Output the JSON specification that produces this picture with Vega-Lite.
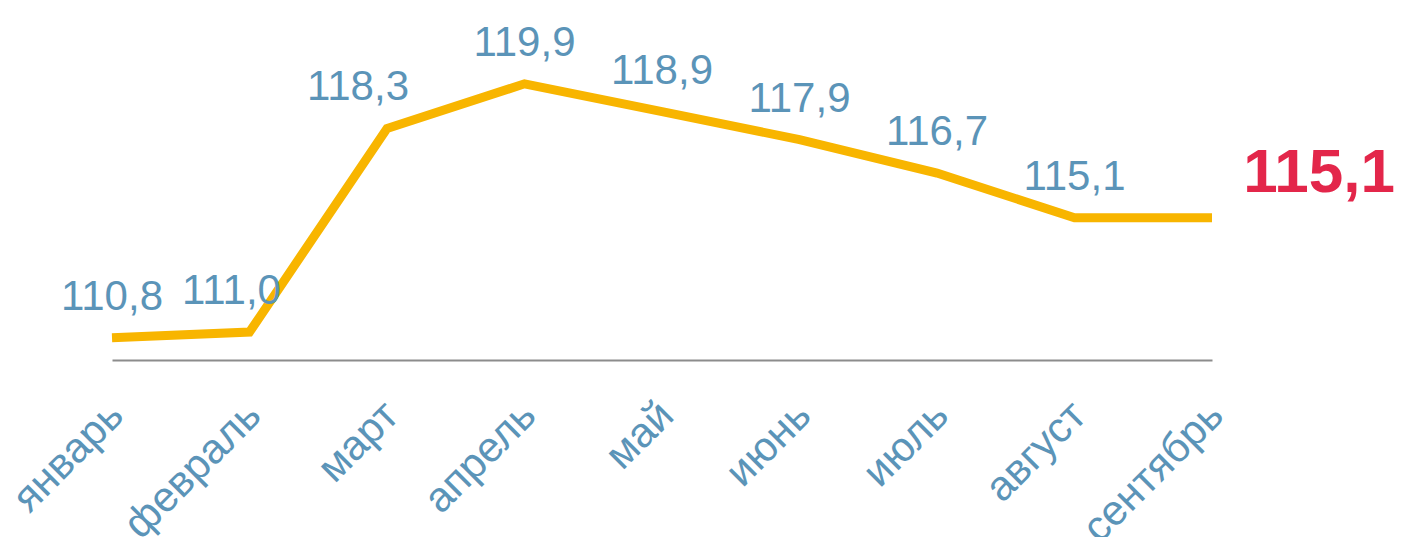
{
  "$schema": "https://vega.github.io/schema/vega-lite/v6.json",
  "autosize": "none",
  "width": 1100,
  "height": 279,
  "padding": {"left": 112, "top": 81, "right": 190, "bottom": 177},
  "background": "white",
  "config": {"view": {"stroke": null}, "font": "Liberation Sans"},
  "data": {"values": [
    {"month": "январь", "value": 110.8, "label": "110,8"},
    {"month": "февраль", "value": 111.0, "label": "111,0"},
    {"month": "март", "value": 118.3, "label": "118,3"},
    {"month": "апрель", "value": 119.9, "label": "119,9"},
    {"month": "май", "value": 118.9, "label": "118,9"},
    {"month": "июнь", "value": 117.9, "label": "117,9"},
    {"month": "июль", "value": 116.7, "label": "116,7"},
    {"month": "август", "value": 115.1, "label": "115,1"},
    {"month": "сентябрь", "value": 115.1, "label": "115,1"}
  ]},
  "encoding": {
    "x": {"field": "month", "type": "nominal", "sort": null,
      "scale": {"type": "point", "padding": 0},
      "axis": {"title": null, "ticks": false, "grid": false, "domainColor": "#8c8c8c", "domainWidth": 2,
        "labelAngle": -45, "labelAlign": "right", "labelBaseline": "top", "labelPadding": 34, "labelOffset": -10,
        "labelFontSize": 42, "labelColor": "#5b94b8", "labelFont": "Liberation Sans", "labelOverlap": false}},
    "y": {"field": "value", "type": "quantitative", "scale": {"domain": [110, 120], "zero": false, "nice": false}, "axis": null}
  },
  "layer": [
    {"mark": {"type": "line", "color": "#f8b500", "strokeWidth": 9, "strokeJoin": "miter", "strokeCap": "butt"}},
    {"transform": [{"filter": "datum.month != 'сентябрь' && datum.month != 'февраль' && datum.month != 'март'"}],
     "mark": {"type": "text", "fontSize": 42, "color": "#5b94b8", "align": "center", "baseline": "alphabetic", "dy": -28},
     "encoding": {"text": {"field": "label"}}},
    {"transform": [{"filter": "datum.month == 'февраль'"}],
     "mark": {"type": "text", "fontSize": 42, "color": "#5b94b8", "align": "center", "baseline": "alphabetic", "dy": -28, "dx": -18},
     "encoding": {"text": {"field": "label"}}},
    {"transform": [{"filter": "datum.month == 'март'"}],
     "mark": {"type": "text", "fontSize": 42, "color": "#5b94b8", "align": "center", "baseline": "alphabetic", "dy": -28, "dx": -29},
     "encoding": {"text": {"field": "label"}}},
    {"transform": [{"filter": "datum.month == 'сентябрь'"}],
     "mark": {"type": "text", "fontSize": 62, "fontWeight": "bold", "color": "#e3264a", "align": "center", "baseline": "alphabetic", "dy": -26, "dx": 107},
     "encoding": {"text": {"field": "label"}}}
  ]
}
